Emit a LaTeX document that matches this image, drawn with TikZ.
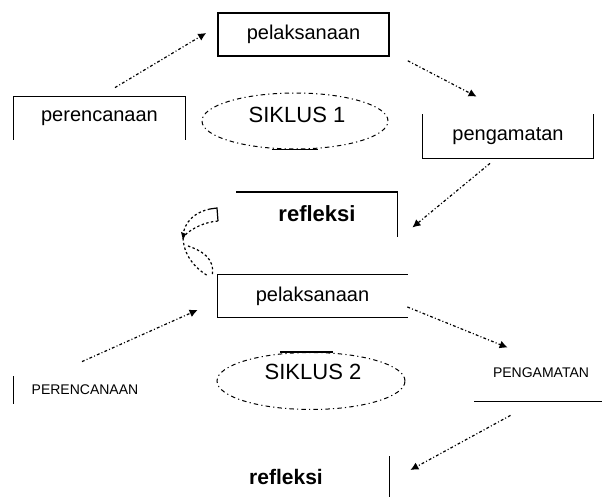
\documentclass[tikz,border=0pt]{standalone}
\usepackage{fontspec}
\setmainfont{Liberation Sans}
\usetikzlibrary{shapes.geometric,arrows.meta,calc}

\begin{document}
\begin{tikzpicture}[x=0.5pt, y=-0.5pt,
    boxline/.style={line width=0.8pt, line cap=rect},
    step box/.style={inner sep=0pt, font=\fontsize{10}{12}\selectfont},
    flow/.style={line width=0.6pt, dash pattern=on 1.4pt off 1.1pt on 0.5pt off 1.1pt,
                 -{Latex[length=4pt,width=4pt]}},
    cycle/.style={ellipse, draw, line width=0.5pt, inner sep=0pt,
                  dash pattern=on 2.2pt off 1.6pt on 0.6pt off 1.6pt},
    cycle text/.style={font=\fontsize{11}{13}\selectfont, inner sep=0pt}]
  \useasboundingbox (0,0) rectangle (602,497);

  % Siklus 1
  \node[step box, draw, boxline, minimum width=85.5pt, minimum height=21.5pt] (plkA) at (303.5,34.5) {pelaksanaan};
  \node[step box, minimum width=85.5pt, minimum height=21pt] (prcA) at (99.5,118) {perencanaan};
  \draw[boxline] (prcA.south west) -- (prcA.north west) -- (prcA.north east) -- (prcA.south east);
  \node[step box, minimum width=85pt, minimum height=21.5pt] (pgmA) at (508,136.5) {pengamatan};
  \draw[boxline] (pgmA.north west) -- (pgmA.south west) -- (pgmA.south east) -- (pgmA.north east);
  \node[step box, font=\fontsize{11}{13}\selectfont\bfseries, minimum width=80pt, minimum height=21.5pt] (rfkA) at (317,214) {refleksi};
  \draw[boxline] (rfkA.north west) -- (rfkA.north east) -- (rfkA.south east);

  \node[cycle, minimum width=93pt, minimum height=28pt] (elA) at (295,121) {};
  \node[cycle text] (tA) at ([xshift=1pt,yshift=3pt]elA.center) {SIKLUS 1};
  \draw[line width=0.6pt] ([xshift=-11.5pt]elA.south) -- ([xshift=11.5pt]elA.south);

  \draw[flow] ([xshift=7.75pt,yshift=4.5pt]prcA.north) -- ([xshift=-5.5pt,yshift=0.75pt]plkA.west);
  \draw[flow] ([xshift=9pt,yshift=-2pt]plkA.south east) -- ([xshift=27pt,yshift=9pt]pgmA.north west);
  \draw[flow] ([xshift=-9pt,yshift=-2.5pt]pgmA.south) -- ([xshift=7.5pt,yshift=-6.75pt]rfkA.east);

  % Siklus 2
  \node[step box, minimum width=94.5pt, minimum height=21pt] (plkB) at (312.5,296) {pelaksanaan};
  \draw[boxline] (plkB.north east) -- (plkB.north west) -- (plkB.south west) -- (plkB.south east);
  \node[step box, font=\fontsize{7}{9}\selectfont, minimum width=71pt, minimum height=13pt] (prcB) at (85,390) {PERENCANAAN};
  \draw[boxline] (prcB.north west) -- (prcB.south west);
  \node[step box, font=\fontsize{7}{9}\selectfont, minimum width=66pt, minimum height=28.5pt] (pgmB) at (541,372.5) {PENGAMATAN};
  \draw[boxline] (pgmB.south west) -- (pgmB.south east);
  \node[step box, font=\fontsize{10.5}{12}\selectfont\bfseries, minimum width=103pt, minimum height=20pt] (rfkB) at (286,477) {refleksi};
  \draw[boxline] (rfkB.north east) -- (rfkB.south east);

  \node[cycle, minimum width=94pt, minimum height=28.5pt] (elB) at (311,381) {};
  \node[cycle text] (tB) at ([xshift=1pt,yshift=4.5pt]elB.center) {SIKLUS 2};
  \draw[line width=0.6pt] ([xshift=-15.5pt]elB.north) -- ([xshift=11pt]elB.north);

  \draw[flow] ([xshift=-1.5pt,yshift=7.5pt]prcB.north) -- ([xshift=-10pt,yshift=-7pt]plkB.west);
  \draw[flow] ([yshift=-5.5pt]plkB.east) -- ([xshift=16.5pt,yshift=-2pt]pgmB.north west);
  \draw[flow] ([xshift=-15.25pt,yshift=-7pt]pgmB.south) -- ([xshift=10.5pt,yshift=3.5pt]rfkB.east);

  % putar balik refleksi -> pelaksanaan
  \begin{scope}[line width=0.6pt, dash pattern=on 1.2pt off 1.2pt]
    \draw[solid] (210,209) -- (217,208) -- (218,221);
    \draw (210,209) .. controls (195,212) and (184,222) .. (183,236)
                    .. controls (183,255) and (195,268) .. (208,276);
    \draw (218,221) .. controls (205,222) and (192,228) .. (184,236);
    \draw (188,246) .. controls (200,250) and (216,258) .. (212,276);
  \end{scope}
  \fill (181,232) -- (186,234) -- (183,240) -- cycle;
\end{tikzpicture}
\end{document}
